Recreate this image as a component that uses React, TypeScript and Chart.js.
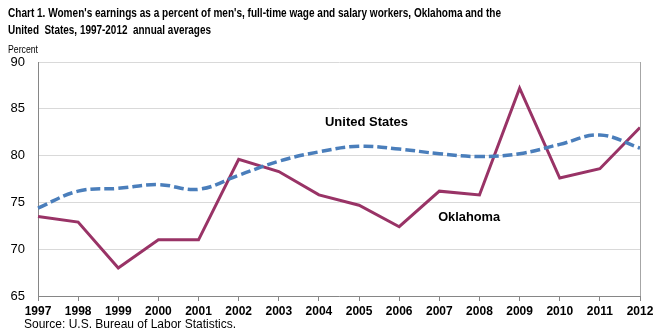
import React, { useEffect, useRef } from "react";
import { Chart, registerables } from "chart.js";

Chart.register(...registerables);

const years = ["1997","1998","1999","2000","2001","2002","2003","2004","2005","2006","2007","2008","2009","2010","2011","2012"];
const usValues = [74.4, 76.2, 76.5, 76.9, 76.4, 77.9, 79.4, 80.4, 81.0, 80.7, 80.2, 79.9, 80.2, 81.2, 82.2, 80.8];
const okValues = [73.5, 72.9, 68.0, 71.0, 71.0, 79.6, 78.3, 75.8, 74.7, 72.4, 76.2, 75.8, 87.2, 77.6, 78.6, 83.0];
const yMin = 65;
const yMax = 90;
const yStep = 5;

const titleLines = [
  "Chart 1. Women's earnings as a percent of men's, full-time wage and salary workers, Oklahoma and the",
  "United  States, 1997-2012  annual averages",
];
const yAxisLabel = "Percent";
const sourceText = "Source: U.S. Bureau of Labor Statistics.";
const usLabel = { text: "United States", index: 7.15, value: 83.5 };
const okLabel = { text: "Oklahoma", index: 9.97, value: 73.4 };

const FONT = "'Liberation Sans', Arial, sans-serif";

const textPlugin = {
  id: "textPlugin",
  afterDraw(chart: any) {
    const ctx = chart.ctx;
    const area = chart.chartArea;
    const xs = chart.scales.x;
    const ys = chart.scales.y;
    ctx.save();
    // right border
    ctx.strokeStyle = "#A6A6A6";
    ctx.lineWidth = 1;
    ctx.beginPath();
    ctx.moveTo(Math.round(area.right) + 0.5, area.top);
    ctx.lineTo(Math.round(area.right) + 0.5, area.bottom);
    ctx.stroke();

    ctx.fillStyle = "#000";
    ctx.textBaseline = "middle";
    ctx.textAlign = "left";
    ctx.font = `bold 13px ${FONT}`;
    ctx.fillText(titleLines[0], 8, 13, 493);
    ctx.fillText(titleLines[1], 8, 30, 203);

    ctx.font = `10px ${FONT}`;
    ctx.fillText(yAxisLabel, 8, 50, 30);

    ctx.font = `12px ${FONT}`;
    ctx.fillText(sourceText, 24, 325, 212);

    ctx.font = `bold 13px ${FONT}`;
    const xu = xs.getPixelForValue(usLabel.index);
    const yu = ys.getPixelForValue(usLabel.value);
    ctx.fillText(usLabel.text, xu, yu, 83);
    const xo = xs.getPixelForValue(okLabel.index);
    const yo = ys.getPixelForValue(okLabel.value);
    ctx.fillText(okLabel.text, xo, yo, 62);
    ctx.restore();
  },
};

export default function App() {
  const ref = useRef<HTMLCanvasElement | null>(null);
  useEffect(() => {
    if (!ref.current) return;
    const chart = new Chart(ref.current, {
      type: "line",
      data: {
        labels: years,
        datasets: [
          {
            label: "United States",
            data: usValues,
            borderColor: "#4A7EBB",
            borderWidth: 3.5,
            borderDash: [10, 4],
            tension: 0.4,
            pointRadius: 0,
            fill: false,
          },
          {
            label: "Oklahoma",
            data: okValues,
            borderColor: "#993366",
            borderWidth: 3,
            tension: 0,
            pointRadius: 0,
            fill: false,
          },
        ],
      },
      options: {
        responsive: false,
        animation: false,
        layout: { padding: { top: 62, right: 28, bottom: 0, left: 0 } },
        plugins: {
          legend: { display: false },
          title: { display: false },
          tooltip: { enabled: false },
        },
        scales: {
          x: {
            type: "category",
            offset: false,
            grid: { drawOnChartArea: false, drawTicks: true, tickLength: 5, color: "#868686" },
            border: { color: "#868686" },
            ticks: {
              font: { family: FONT, size: 12, weight: "bold" },
              color: "#000",
              padding: 3,
              maxRotation: 0,
              autoSkip: false,
            },
            afterFit: (s: any) => { s.height = 40; },
          },
          y: {
            min: yMin,
            max: yMax,
            grid: { color: "#D9D9D9", drawTicks: false },
            border: { color: "#868686" },
            ticks: {
              stepSize: yStep,
              font: { family: FONT, size: 13 },
              color: "#000",
              padding: 13,
            },
            afterFit: (s: any) => { s.width = 38; },
          },
        },
      },
      plugins: [textPlugin],
    } as any);
    return () => chart.destroy();
  }, []);
  return (
    <div style={{ position: "absolute", left: 0, top: 0, width: 668, height: 336, background: "#fff" }}>
      <canvas ref={ref} width={668} height={336} style={{ display: "block" }} />
    </div>
  );
}
